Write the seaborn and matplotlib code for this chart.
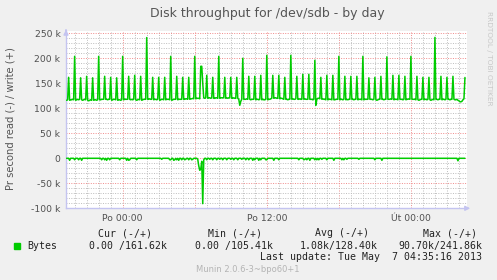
import matplotlib
matplotlib.use("Agg")
import matplotlib.pyplot as plt
from matplotlib.patches import Rectangle
import numpy as np
import pandas as pd
import seaborn as sns

# ---------------- data (values in thousands of bytes / s) ----------------
# 5-minute samples, start time in hours relative to "Po 00:00"
start_hour = -4.667
step_hour = 5.0 / 60.0
write_lead_k = [116, 117]
# one row per half hour, first sample of each row is at hh:00 / hh:30
write_rows_k = [
    [162, 116, 117, 117, 118, 117],  # -4.5
    [204, 116, 117, 118, 117, 118],
    [161, 117, 116, 117, 118, 117],
    [164, 116, 115, 116, 117, 116],
    [161, 116, 117, 117, 116, 117],
    [204, 117, 117, 118, 118, 118],
    [164, 118, 118, 117, 118, 118],
    [162, 116, 117, 118, 118, 117],
    [161, 116, 117, 117, 116, 117],
    [204, 117, 118, 118, 118, 118],  # 0.0
    [164, 118, 117, 118, 117, 118],
    [166, 117, 116, 117, 118, 117],
    [164, 116, 117, 118, 118, 118],
    [241.5, 118, 118, 119, 118, 118],
    [162, 117, 118, 118, 117, 118],
    [162, 116, 117, 118, 118, 117],
    [162, 117, 118, 118, 118, 117],
    [204, 116, 117, 118, 118, 118],  # 4.0
    [164, 117, 118, 118, 118, 118],
    [162, 118, 118, 119, 119, 118],
    [162, 118, 119, 119, 120, 119],
    [204, 119, 120, 120, 120, 119],
    [184, 184, 150, 121, 120, 121],
    [166, 120, 121, 121, 120, 121],
    [162, 120, 120, 121, 121, 120],
    [204, 120, 121, 121, 121, 121],  # 8.0
    [162, 120, 121, 120, 121, 121],
    [162, 120, 120, 121, 120, 120],
    [162, 120, 118, 106, 114, 118],
    [200, 118, 118, 118, 119, 118],
    [164, 118, 117, 118, 118, 118],
    [164, 117, 118, 118, 117, 118],
    [166, 117, 118, 117, 117, 118],
    [206, 117, 118, 118, 119, 120],  # 12.0
    [166, 120, 121, 121, 120, 120],
    [166, 119, 120, 120, 119, 118],
    [162, 118, 118, 117, 118, 118],
    [206, 118, 119, 118, 118, 119],
    [164, 118, 118, 119, 118, 118],
    [168, 118, 119, 118, 118, 118],
    [168, 118, 118, 118, 117, 118],
    [196, 106, 118, 120, 120, 119],  # 16.0
    [162, 118, 119, 118, 118, 117],
    [166, 117, 118, 118, 118, 117],
    [166, 117, 117, 118, 118, 118],
    [204, 117, 118, 118, 117, 118],
    [164, 117, 118, 117, 118, 118],
    [164, 118, 118, 117, 118, 118],
    [164, 117, 118, 118, 118, 117],
    [204, 117, 118, 118, 118, 118],  # 20.0
    [161, 118, 118, 118, 117, 118],
    [162, 117, 116, 117, 118, 118],
    [164, 118, 118, 117, 118, 118],
    [203, 118, 118, 118, 119, 118],
    [166, 117, 118, 118, 118, 117],
    [166, 118, 118, 118, 117, 118],
    [164, 117, 118, 118, 119, 118],
    [204, 118, 118, 118, 118, 117],  # 24.0
    [164, 117, 116, 117, 118, 118],
    [162, 117, 118, 118, 117, 118],
    [162, 117, 116, 117, 118, 117],
    [241.86, 118, 118, 117, 118, 118],
    [164, 117, 118, 118, 117, 118],
    [162, 118, 118, 117, 118, 118],
    [164, 118, 117, 117, 118, 116],
    [115, 113, 113, 114, 117, 119],  # 28.0
    [161.62],
]
# read (drawn negative): non-zero samples only
read_hours = [-4.417, -4.0, -3.667, -3.417, -1.75, -1.5, -1.333, -1.083, -0.25,
              0.333, 0.5, 0.583, 1.167, 3.25, 3.917, 4.0, 4.25, 4.333, 4.5, 4.667,
              4.917, 5.167, 5.25, 5.5, 5.75, 5.833,
              6.25, 6.333, 6.417, 6.5, 6.583, 6.667, 6.75,
              7.0, 7.25, 7.5, 7.833, 8.083, 8.333, 8.667, 9.0, 9.25, 9.583, 9.917,
              10.25, 10.5, 10.833, 11.0, 11.333, 11.5, 11.917, 12.0, 12.583, 13.0,
              14.667, 15.083, 15.167, 15.333, 15.583, 16.0, 16.167, 16.333, 16.583,
              17.0, 17.583, 18.25, 18.417, 18.667, 19.667, 21.0, 21.583, 27.917]
read_k = [-4, -3, -3, -4, -3, -3, -4, -3, -3,
          -4, -4, -3, -3, -2, -3, -3, -4, -3, -3, -4,
          -3, -3, -2, -3, -3, -2,
          -2, -15, -24, -22, -6, -90.7, -3,
          -3, -2, -3, -3, -2, -3, -3, -2, -3, -3, -2,
          -3, -3, -4, -3, -4, -3, -3, -3, -4, -3,
          -3, -3, -2, -3, -4, -3, -3, -3, -2,
          -3, -4, -3, -3, -2, -2, -3, -4, -5]

y_ticks = [-100, -50, 0, 50, 100, 150, 200, 250]
y_tick_labels = ["-100 k", "-50 k", "0", "50 k", "100 k", "150 k", "200 k", "250 k"]
x_major = [0, 6, 12, 18, 24]
x_major_labels = ["Po 00:00", "", "Po 12:00", "", "Út 00:00"]

legend_heads = ["Cur (-/+)", "Min (-/+)", "Avg (-/+)", "Max (-/+)"]
legend_vals = ["0.00 /161.62k", "0.00 /105.41k", "1.08k/128.40k", "90.70k/241.86k"]

# ---------------- build frames ----------------
write_vals = list(write_lead_k) + [v for row in write_rows_k for v in row]
n = len(write_vals)
hours = start_hour + step_hour * np.arange(n)
read_vals = np.zeros(n)
for h, v in zip(read_hours, read_k):
    idx = int(round((h - start_hour) / step_hour))
    read_vals[idx] = v
df = pd.DataFrame({"hour": np.concatenate([hours, hours]),
                   "value": np.concatenate([write_vals, read_vals]),
                   "dir": ["write"] * n + ["read"] * n})

# ---------------- figure ----------------
sns.set_style("white")
plt.rcParams["font.family"] = ["DejaVu Sans"]
W, H = 497, 280
fig = plt.figure(figsize=(W / 100, H / 100), dpi=100, facecolor="#F0F0F0")
ax = fig.add_axes([66 / W, 71.7 / H, 401 / W, 177 / H])
ax.set_facecolor("white")

GREEN = "#00CC00"
sns.lineplot(data=df, x="hour", y="value", units="dir", estimator=None,
             color=GREEN, lw=1.1, ax=ax, legend=False, zorder=3)

ax.set_xlim(-4.72, 28.67)
ax.set_ylim(-100, 254)

ax.set_xticks(x_major)
ax.set_xticklabels(x_major_labels)
ax.set_xticks(np.arange(-4, 29, 1), minor=True)
ax.set_yticks(y_ticks)
ax.set_yticklabels(y_tick_labels)
ax.set_yticks(np.arange(-100, 251, 10), minor=True)

ax.grid(which="minor", color="#bdbdbd", linestyle=(0, (1, 1.5)), lw=0.7, zorder=0)
ax.grid(which="major", color="#f08a8a", linestyle=(0, (1, 1.5)), lw=0.7, zorder=1)
ax.set_axisbelow(True)

for s in ["top", "right"]:
    ax.spines[s].set_visible(False)
for s in ["left", "bottom"]:
    ax.spines[s].set_color("#c4c4f0")
    ax.spines[s].set_linewidth(1.0)

ax.tick_params(axis="both", which="both", length=0, labelsize=6.7,
               labelcolor="#505050")
ax.tick_params(axis="y", pad=4)
ax.tick_params(axis="x", pad=4)
ax.set_xlabel("")
ax.set_ylabel("")

# axis arrows
ax.annotate("", xy=(0, 1.025), xytext=(0, 0.99), xycoords="axes fraction",
            arrowprops=dict(arrowstyle="-|>", color="#c4c4f0", lw=1,
                            mutation_scale=7), annotation_clip=False)
ax.annotate("", xy=(1.015, 0), xytext=(0.99, 0), xycoords="axes fraction",
            arrowprops=dict(arrowstyle="-|>", color="#c4c4f0", lw=1,
                            mutation_scale=7), annotation_clip=False)

def ftext(x, y, s, **kw):
    fig.text(x / W, 1 - y / H, s, **kw)

ftext(267, 13, "Disk throughput for /dev/sdb - by day", ha="center", va="center",
      fontsize=9, color="#555555")
ftext(11, 119, "Pr second read (-) / write (+)", ha="center", va="center",
      rotation=90, fontsize=7.2, color="#555555")
ftext(489, 58, "RRDTOOL / TOBI OETIKER", ha="center", va="center",
      rotation=270, fontsize=5.3, color="#c8c8c8")

mono = dict(family="DejaVu Sans Mono", fontsize=7.1, color="#222222", va="center")
fig.add_artist(Rectangle((14 / W, 1 - 248.5 / H), 6 / W, 6 / H,
                         color=GREEN, transform=fig.transFigure))
ftext(27, 246, "Bytes", ha="left", **mono)
head_x = [125, 235, 342, 450]
val_x = [128, 234, 339, 440]
for hx, vx, hs, vs in zip(head_x, val_x, legend_heads, legend_vals):
    ftext(hx, 233, hs, ha="center", **mono)
    ftext(vx, 246, vs, ha="center", **mono)
ftext(482, 257, "Last update: Tue May  7 04:35:16 2013", ha="right", **mono)
ftext(248, 269, "Munin 2.0.6-3~bpo60+1", ha="center", va="center",
      fontsize=6, color="#b4b4b4")

fig.savefig("out.png", dpi=100, facecolor=fig.get_facecolor())
